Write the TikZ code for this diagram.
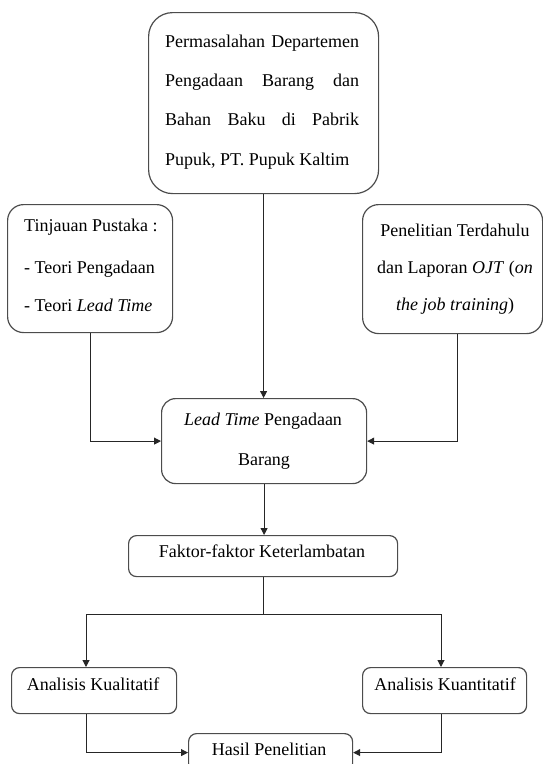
\documentclass[tikz,border=0pt]{standalone}
\usepackage{fontspec}
\setmainfont{Liberation Serif}
\usetikzlibrary{arrows.meta}
\begin{document}
\begin{tikzpicture}[x=1pt,y=-1pt,
  box/.style={draw=black!70, line width=1.2pt, rounded corners=#1, inner sep=0pt, anchor=north west},
  box/.default=12pt,
  txt/.style={inner sep=0pt, font=\fontsize{18}{21}\selectfont},
  conn/.style={draw=black!85, line width=1pt},
  arr/.style={conn, -{Triangle[length=7pt,width=7pt]}}]
\useasboundingbox (0,0) rectangle (543,764);
\clip (0,0) rectangle (543,764);
% boxes
\node[box=24pt, minimum width=230pt, minimum height=181pt] (top) at (148,12) {};
\node[box=16pt, minimum width=165pt, minimum height=128pt] (tin) at (7,204) {};
\node[box=16pt, minimum width=180pt, minimum height=129pt] (pen) at (362,204) {};
\node[box=14pt, minimum width=205pt, minimum height=85pt] (lead) at (161,398) {};
\node[box=8pt, minimum width=269pt, minimum height=41pt] (fak) at (128,535) {};
\node[box=8pt, minimum width=165pt, minimum height=46pt] (kual) at (11,667) {};
\node[box=8pt, minimum width=164pt, minimum height=46pt] (kuan) at (362,667) {};
\node[box=8pt, minimum width=164pt, minimum height=38pt] (has) at (188,733) {};
% texts
\node[txt, anchor=base west] (t1) at (165,47) {\makebox[194pt][s]{Permasalahan Departemen}};
\node[txt, anchor=base west] (t2) at (165,86) {\makebox[194pt][s]{Pengadaan Barang dan}};
\node[txt, anchor=base west] (t3) at (165,125) {\makebox[194pt][s]{Bahan Baku di Pabrik}};
\node[txt, anchor=base west] (t4) at (165,165) {Pupuk, PT. Pupuk Kaltim};
\node[txt, anchor=base west] (l1) at (24,231) {Tinjauan Pustaka :};
\node[txt, anchor=base west] (l2) at (24,273) {- Teori Pengadaan};
\node[txt, anchor=base west] (l3) at (24,311) {- Teori \textit{Lead Time}};
\node[txt, anchor=base] (r1) at (455,236) {Penelitian Terdahulu};
\node[txt, anchor=base] (r2) at (455,273) {dan Laporan \textit{OJT} (\textit{on}};
\node[txt, anchor=base] (r3) at (455,310) {\textit{the job training})};
\node[txt, anchor=base] (m1) at (263,425) {\textit{Lead Time} Pengadaan};
\node[txt, anchor=base] (m2) at (264,465) {Barang};
\node[txt, anchor=base] (f1) at (262,557) {Faktor-faktor Keterlambatan};
\node[txt, anchor=base] (k1) at (93,690) {Analisis Kualitatif};
\node[txt, anchor=base] (k2) at (445,690) {Analisis Kuantitatif};
\node[txt, anchor=base] (h1) at (269,755) {Hasil Penelitian};
% connectors
\coordinate (jl) at (86,614);
\coordinate (jr) at (441,614);
\coordinate (pr) at ([xshift=5pt]pen.south);
\draw[arr] (top.south) -- (top.south |- lead.north);
\draw[arr] (tin.south) |- (lead.west);
\draw[arr] (pr) |- (lead.east);
\draw[arr] (lead.south) -- (lead.south |- fak.north);
\draw[conn] (fak.south) -- (fak.south |- jl);
\draw[arr] (jl) -- (jr) -- (jr |- kuan.north);
\draw[arr] (jl) -- (jl |- kual.north);
\draw[arr] (jl |- kual.south) |- (has.west);
\draw[arr] (jr |- kuan.south) |- (has.east);
\end{tikzpicture}
\end{document}
